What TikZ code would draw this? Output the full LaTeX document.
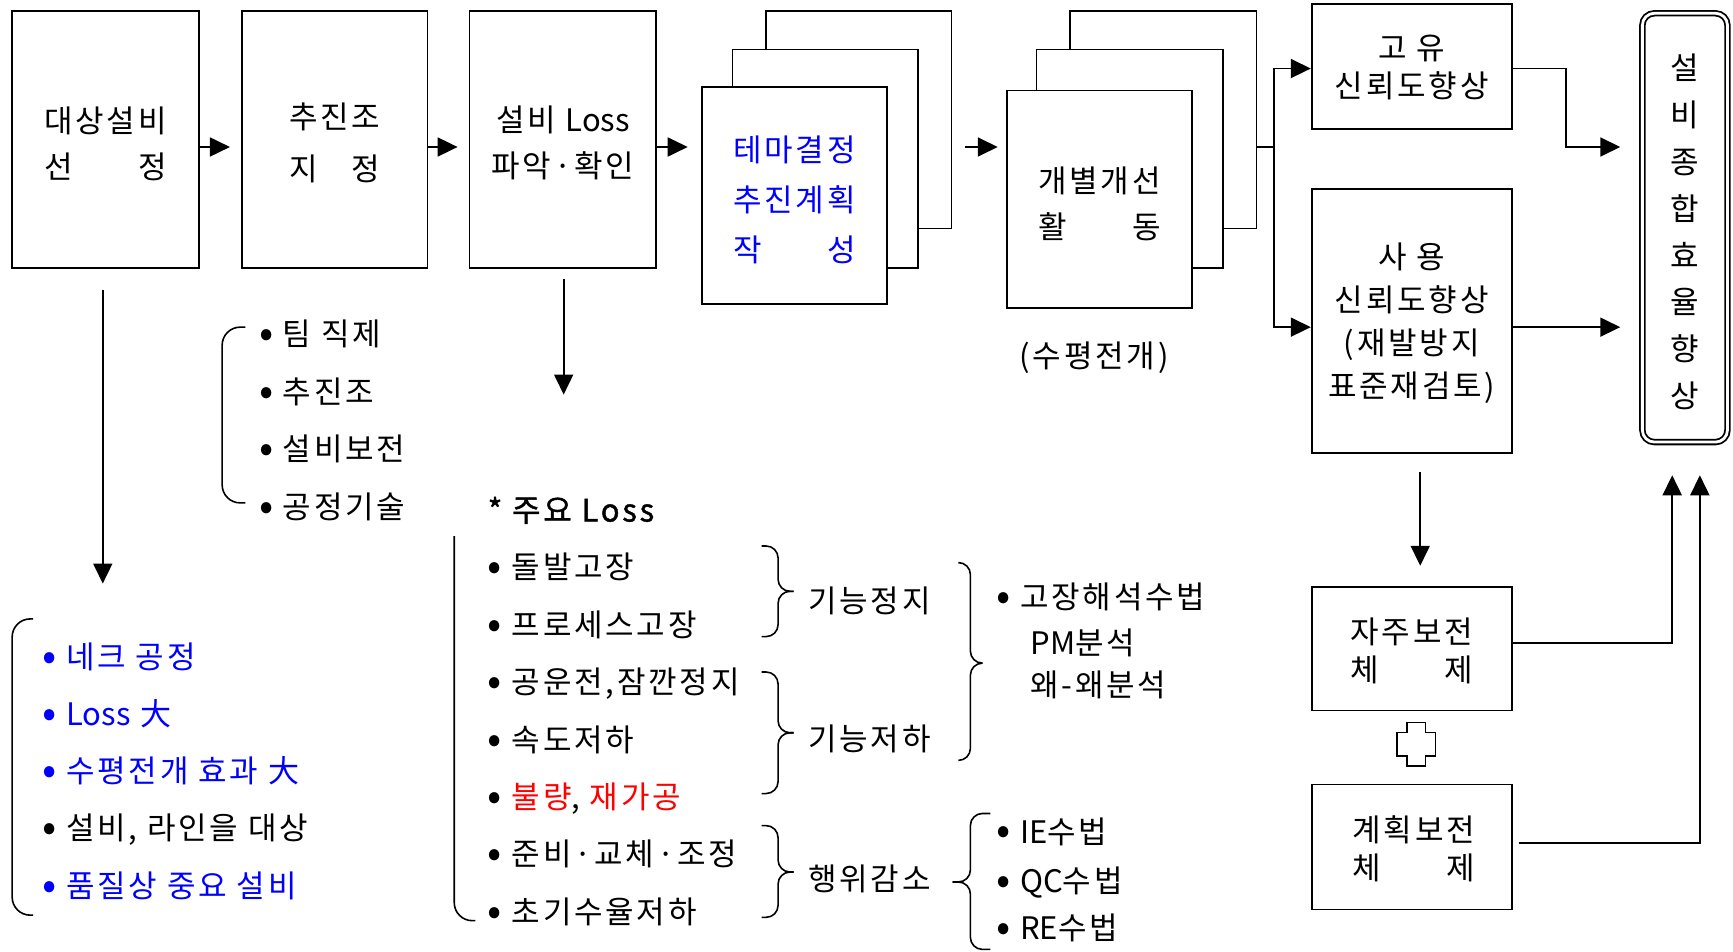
\documentclass[tikz,border=0pt]{standalone}
\usepackage{fontspec}
\usepackage{calc}
\setmainfont{Noto Sans CJK KR}[LetterSpace=9]
\newfontfamily\lat{Noto Sans CJK KR}
\newfontfamily\hdr{Noto Sans CJK KR}[LetterSpace=9,FakeBold=1.3]
\usetikzlibrary{arrows.meta,calc}
\definecolor{kblue}{RGB}{0,0,255}
\definecolor{kred}{RGB}{255,0,0}
\newcommand\spreadtxt[3]{\makebox[\widthof{#1}][s]{#2\hfill #3}}
\newcommand\bul{\raisebox{-0.06em}{\scalebox{1.35}{•}}}
\begin{document}
\begin{tikzpicture}[x=0.5526pt,y=-0.5526pt,
  every node/.style={font=\fontsize{15.5}{23}\selectfont},
  bx/.style={draw, line width=0.9pt, anchor=north west, inner sep=0pt, align=center, fill=white},
  tx/.style={align=center},
  ln/.style={line width=0.9pt},
  arr/.style={line width=0.9pt, -{Triangle[length=10pt,width=9.5pt]}},
  lbl/.style={anchor=west, inner sep=0pt, text height=0.75em, text depth=0.05em, yshift=-2.5pt},
  brk/.style={line width=0.8pt, rounded corners=9pt},
  brc/.style={line width=0.8pt, rounded corners=6pt}]
\useasboundingbox (0,0) rectangle (1568,861);

% top row boxes
\node[bx, minimum width=169*0.5526pt, minimum height=233*0.5526pt] (b1) at (10,9) {};
\node[tx] at ($(b1.center)+(0,4)$) {대상설비\\\spreadtxt{대상설비}{선}{정}};
\node[bx, minimum width=168*0.5526pt, minimum height=233*0.5526pt] (b2) at (218,9) {};
\node[tx, font=\fontsize{15.5}{26}\selectfont] at ($(b2.center)+(0,3)$) {추진조\\\spreadtxt{추진조}{지}{정}};
\node[bx, minimum width=169*0.5526pt, minimum height=233*0.5526pt] (b3) at (424,9) {};
\node[tx] at ($(b3.center)+(0,3)$) {설비 {\lat Loss}\\파악·확인};

% stack A
\node[bx, minimum width=168*0.5526pt, minimum height=197*0.5526pt] (sA3) at (692,9) {};
\node[bx, minimum width=168*0.5526pt, minimum height=198*0.5526pt] (sA2) at (662,44) {};
\node[bx, minimum width=168*0.5526pt, minimum height=196*0.5526pt] (sA1) at (634,78) {};
\node[tx, text=kblue, font=\fontsize{15.5}{25}\selectfont] at ($(sA1.center)+(0,4)$) {테마결정\\추진계획\\\spreadtxt{추진계획}{작}{성}};

% stack B
\node[bx, minimum width=169*0.5526pt, minimum height=197*0.5526pt] (sB3) at (967,9) {};
\node[bx, minimum width=169*0.5526pt, minimum height=198*0.5526pt] (sB2) at (937,44) {};
\node[bx, minimum width=168*0.5526pt, minimum height=197*0.5526pt] (sB1) at (910,81) {};
\node[tx] at ($(sB1.center)+(0,4)$) {개별개선\\\spreadtxt{개별개선}{활}{동}};
\node (hz) at (990,324) {(수평전개)};

% right boxes
\node[bx, minimum width=181*0.5526pt, minimum height=113*0.5526pt] (gy) at (1186,3) {};
\node[tx, font=\fontsize{15.5}{19}\selectfont] at ($(gy.center)+(0,1)$) {고 유\\신뢰도향상};
\node[bx, minimum width=181*0.5526pt, minimum height=239*0.5526pt] (sy) at (1186,170) {};
\node[tx, font=\fontsize{15.5}{21.5}\selectfont] at ($(sy.center)+(0,2)$) {사 용\\신뢰도향상\\(재발방지\\표준재검토)};
\node[bx, minimum width=181*0.5526pt, minimum height=112*0.5526pt] (jj) at (1186,530) {};
\node[tx, font=\fontsize{15.5}{19}\selectfont] at ($(jj.center)+(0,2)$) {자주보전\\\spreadtxt{자주보전}{체}{제}};
\node[bx, minimum width=181*0.5526pt, minimum height=113*0.5526pt] (gh) at (1186,709) {};
\node[tx, font=\fontsize{15.5}{19}\selectfont] at ($(gh.center)+(2,2)$) {계획보전\\\spreadtxt{계획보전}{체}{제}};

% final box
\node[draw, double, double distance=1.4pt, line width=0.9pt, rounded corners=6pt,
  minimum width=77*0.5526pt, minimum height=388*0.5526pt, inner sep=0pt] (fin) at (1524.5,206) {};
\node[tx, font=\fontsize{15.5}{23.4}\selectfont] at ($(fin.center)+(0,4)$) {설\\비\\종\\합\\효\\율\\향\\상};

% plus sign
\draw[line width=0.6pt] (1273,654) -- (1290,654) -- (1290,663) -- (1299,663) -- (1299,684) -- (1290,684) -- (1290,693) -- (1273,693) -- (1273,684) -- (1264,684) -- (1264,663) -- (1273,663) -- cycle;

% top row arrows
\coordinate (r1) at (0,133);
\draw[arr, shorten >=5.5pt] (b1.east |- r1) -- (b2.west |- r1);
\draw[arr, shorten >=5.5pt] (b2.east |- r1) -- (b3.west |- r1);
\draw[arr, shorten >=6.5pt] (b3.east |- r1) -- (sA1.west |- r1);
\draw[arr, shorten <=6.5pt, shorten >=4pt] (sA3.east |- r1) -- (sB1.west |- r1);
\coordinate (j) at (1153,133);
\draw[ln] (sB3.east |- r1) -- (j);
\draw[arr] (j) |- (gy.west |- {(0,62)});
\draw[arr] (j) |- (sy.west |- {(0,296)});
\coordinate (fa) at (1466,133);
\draw[arr] (gy.east |- {(0,62)}) -| (1417,133) -- (fa);
\coordinate (fb) at (1466,296);
\draw[arr] (sy.east |- fb) -- (fb);
\draw[arr, shorten <=9pt, shorten >=10pt] (sy.south -| {(1285,0)}) -- (jj.north -| {(1285,0)});
\coordinate (fc) at (1513,430);
\coordinate (fd) at (1538,430);
\draw[arr] (jj.east |- {(0,582)}) -| (fc);
\draw[arr, shorten <=3pt] (gh.east |- {(0,763)}) -| (fd);

% down arrows
\coordinate (d1) at (93,528);
\draw[arr, shorten <=10.5pt] (b1.south -| d1) -- (d1);
\coordinate (d3) at (510,357);
\draw[arr, shorten <=5pt] (b3.south -| d3) -- (d3);

% team list
\draw[brk] (222,296) -- (201,296) -- (201,455) -- (222,455);
\node[lbl] (t1) at (234,302) {\bul{} 팀 직제};
\node[lbl] (t2) at (234,354) {\bul{} 추진조};
\node[lbl] (t3) at (234,406) {\bul{} 설비보전};
\node[lbl] (t4) at (234,458) {\bul{} 공정기술};

% loss list
\node[lbl] (lh) at (441,461) {\hdr * 주요 {\lat\hdr Loss}};
\draw[brk] (411,485) -- (411,833) -- (430,833);
\node[lbl] (l1) at (441,513) {\bul{} 돌발고장};
\node[lbl] (l2) at (441,565) {\bul{} 프로세스고장};
\node[lbl] (l3) at (441,617) {\bul{} 공운전,잠깐정지};
\node[lbl] (l4) at (441,669) {\bul{} 속도저하};
\node[lbl] (l5) at (441,721) {\bul{} \textcolor{kred}{불량}, \textcolor{kred}{재가공}};
\node[lbl] (l6) at (441,772) {\bul{} 준비·교체·조정};
\node[lbl] (l7) at (441,825) {\bul{} 초기수율저하};

% braces
\draw[brc] (689,494) -- (704,494) -- (704,535) -- (718,535);
\draw[brc] (718,535) -- (704,535) -- (704,576) -- (689,576);
\draw[brc] (689,608) -- (704,608) -- (704,663) -- (718,663);
\draw[brc] (718,663) -- (704,663) -- (704,718) -- (689,718);
\draw[brc] (689,747) -- (704,747) -- (704,789) -- (718,789);
\draw[brc] (718,789) -- (704,789) -- (704,830) -- (689,830);
\node[lbl] (g1) at (731,543) {기능정지};
\node[lbl] (g2) at (731,668) {기능저하};
\node[lbl] (g3) at (731,795) {행위감소};

\draw[brc] (868,509) -- (878,509) -- (878,600) -- (888,600);
\draw[brc] (888,600) -- (878,600) -- (878,688) -- (868,688);
\node[lbl] (m1) at (901,540) {\bul{} 고장해석수법};
\node[lbl] (m2) at (932,581) {{\lat PM}분석};
\node[lbl] (m3) at (932,619) {왜-왜분석};

\draw[brc] (896,736) -- (878,736) -- (878,798) -- (862,798);
\draw[brc] (862,798) -- (878,798) -- (878,859) -- (896,859);
\node[lbl] (q1) at (901,752) {\bul{} {\lat IE}수법};
\node[lbl] (q2) at (901,797) {\bul{} {\lat QC}수법};
\node[lbl] (q3) at (901,839) {\bul{} {\lat RE}수법};

% criteria list
\draw[brk] (30,560) -- (11,560) -- (11,828) -- (30,828);
\node[lbl, text=kblue] (c1) at (38,594) {\bul{} 네크 공정};
\node[lbl, text=kblue] (c2) at (38,646) {\bul{} {\lat Loss} 大};
\node[lbl, text=kblue] (c3) at (38,697) {\bul{} 수평전개 효과 大};
\node[lbl] (c4) at (38,749) {\bul{} 설비, 라인을 대상};
\node[lbl, text=kblue] (c5) at (38,801) {\bul{} 품질상 중요 설비};
\end{tikzpicture}
\end{document}
